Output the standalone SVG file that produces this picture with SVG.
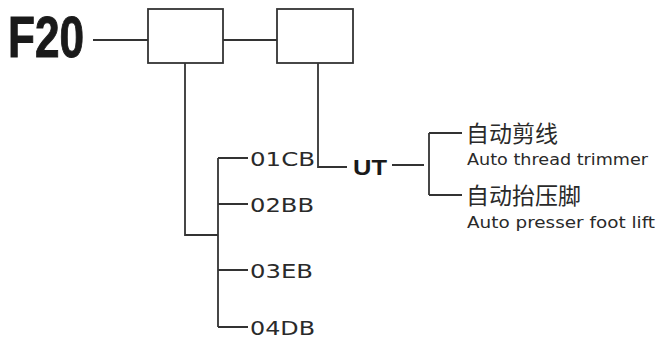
<svg xmlns="http://www.w3.org/2000/svg" width="659" height="341" viewBox="0 0 659 341">
<style>
.ln{fill:none;stroke:#333;stroke-width:1.8}
.box{fill:#fff;stroke:#333;stroke-width:1.8}
.code{font-family:"DejaVu Sans","Liberation Sans",sans-serif;font-size:20px;fill:#2a2a2a}
.cn{font-family:"Noto Sans CJK SC","Noto Sans",sans-serif;font-size:23px;fill:#2a2a2a}
.en{font-family:"DejaVu Sans","Liberation Sans",sans-serif;font-size:15.5px;fill:#2a2a2a}
</style>
<rect width="659" height="341" fill="#fff"/>
<g id="connectors">
<path class="ln" d="M93 40H148M223 40H277"/>
<path class="ln" d="M185 63V235H218"/>
<path class="ln" d="M218 158V327M218 158H248M218 204H248M218 270H248M218 327H248"/>
<path class="ln" d="M318 63V167H347"/>
<path class="ln" d="M392 165H424M429 133V195M429 133H462M429 195H462"/>
</g>
<g id="f20"><text x="8" y="57" font-family="Liberation Sans,Arial,sans-serif" font-weight="bold" font-size="58" fill="#1a1a1a" stroke="#1a1a1a" stroke-width="1" textLength="76" lengthAdjust="spacingAndGlyphs">F20</text></g>
<g id="box1"><rect class="box" x="148" y="9" width="75" height="54"/></g>
<g id="box2"><rect class="box" x="277" y="9" width="76" height="54"/></g>
<g id="n01CB"><text class="code" x="250" y="166" textLength="65" lengthAdjust="spacingAndGlyphs">01CB</text></g>
<g id="n02BB"><text class="code" x="250" y="212" textLength="64" lengthAdjust="spacingAndGlyphs">02BB</text></g>
<g id="n03EB"><text class="code" x="250" y="278" textLength="63" lengthAdjust="spacingAndGlyphs">03EB</text></g>
<g id="n04DB"><text class="code" x="250" y="335" textLength="65" lengthAdjust="spacingAndGlyphs">04DB</text></g>
<g id="ut"><text x="353" y="175" font-family="Liberation Sans,Arial,sans-serif" font-weight="bold" font-size="22" fill="#1a1a1a" textLength="34" lengthAdjust="spacingAndGlyphs">UT</text></g>
<g id="trimmer">
<text class="cn" x="466" y="142">自动剪线</text>
<text class="en" x="467" y="165" textLength="181" lengthAdjust="spacingAndGlyphs">Auto thread trimmer</text>
</g>
<g id="footlift">
<text class="cn" x="466" y="204">自动抬压脚</text>
<text class="en" x="467" y="228" textLength="188" lengthAdjust="spacingAndGlyphs">Auto presser foot lift</text>
</g>
</svg>
